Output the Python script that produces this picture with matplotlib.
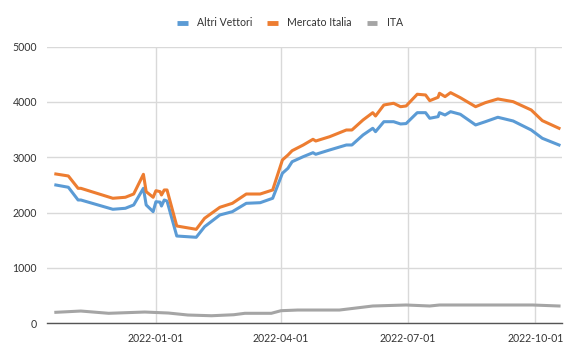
import numpy as np
import pandas as pd
import matplotlib
matplotlib.use("Agg")
import matplotlib.pyplot as plt
import matplotlib.dates as mdates

# ------------------------------------------------------------------
# Data
# ------------------------------------------------------------------
dates = [
    "2021-10-21", "2021-10-30", "2021-11-06", "2021-11-08", "2021-12-01",
    "2021-12-10", "2021-12-16", "2021-12-23", "2021-12-25", "2021-12-30",
    "2022-01-01", "2022-01-04", "2022-01-05", "2022-01-07", "2022-01-09",
    "2022-01-16", "2022-01-30", "2022-02-05", "2022-02-16", "2022-02-25",
    "2022-03-07", "2022-03-17", "2022-03-26", "2022-04-02", "2022-04-06",
    "2022-04-09", "2022-04-17", "2022-04-24", "2022-04-26", "2022-05-06",
    "2022-05-18", "2022-05-22", "2022-05-30", "2022-06-06", "2022-06-08",
    "2022-06-14", "2022-06-21", "2022-06-26", "2022-06-30", "2022-07-08",
    "2022-07-14", "2022-07-17", "2022-07-23", "2022-07-24", "2022-07-28",
    "2022-08-01", "2022-08-08", "2022-08-19", "2022-08-26", "2022-09-04",
    "2022-09-15", "2022-09-28", "2022-10-06", "2022-10-18",
]
mercato_italia = [
    2699, 2663, 2440, 2440, 2260,
    2278, 2337, 2693, 2379, 2278,
    2397, 2380, 2319, 2410, 2410,
    1759, 1699, 1898, 2097, 2169,
    2337, 2337, 2410, 2952, 3042,
    3120, 3223, 3326, 3295, 3373,
    3494, 3494, 3675, 3807, 3747,
    3946, 3977, 3915, 3928, 4140,
    4127, 4024, 4085, 4158, 4097,
    4169, 4078, 3915, 3988, 4055,
    4006, 3856, 3663, 3525,
]
altri_vettori = [
    2500, 2459, 2229, 2229, 2061,
    2079, 2139, 2440, 2139, 2018,
    2198, 2190, 2120, 2229, 2210,
    1578, 1555, 1746, 1958, 2018,
    2169, 2180, 2260, 2712, 2802,
    2921, 3012, 3084, 3055, 3133,
    3223, 3223, 3404, 3525, 3464,
    3644, 3644, 3603, 3610, 3807,
    3807, 3706, 3735, 3807, 3765,
    3825, 3778, 3585, 3644, 3724,
    3657, 3494, 3344, 3223,
]
ita_dates = [
    "2021-10-21", "2021-11-08", "2021-11-28", "2021-12-24", "2022-01-10",
    "2022-01-24", "2022-02-10", "2022-02-26", "2022-03-06", "2022-03-25",
    "2022-04-01", "2022-04-13", "2022-05-13", "2022-06-06", "2022-06-30",
    "2022-07-17", "2022-07-24", "2022-08-29", "2022-09-29", "2022-10-18",
]
ita = [
    199, 222, 181, 204, 186,
    150, 137, 155, 181, 181,
    228, 240, 240, 313, 331,
    313, 331, 331, 331, 313,
]

x_ticks = ["2022-01-01", "2022-04-01", "2022-07-01", "2022-10-01"]
y_ticks = [0, 1000, 2000, 3000, 4000, 5000]

BLUE = "#5b9bd5"
ORANGE = "#ed7d31"
GREY = "#a5a5a5"

plt.rcParams["font.family"] = ["Lato", "DejaVu Sans"]

fig = plt.figure(figsize=(5.8, 3.59), dpi=100)
ax = fig.add_axes([0.0805, 0.0994, 0.8879, 0.7706])

d = pd.to_datetime(dates)
ax.plot(d, altri_vettori, color=BLUE, lw=2.2, label="Altri Vettori", solid_joinstyle="round")
ax.plot(d, mercato_italia, color=ORANGE, lw=2.2, label="Mercato Italia", solid_joinstyle="round")
ax.plot(pd.to_datetime(ita_dates), ita, color=GREY, lw=2.2, label="ITA", solid_joinstyle="round")

ax.set_xlim(pd.Timestamp("2021-10-14 10:00"), pd.Timestamp("2022-10-19 22:00"))
ax.set_ylim(0, 5000)
ax.set_yticks(y_ticks)
ax.set_xticks(pd.to_datetime(x_ticks))
ax.xaxis.set_major_formatter(mdates.DateFormatter("%Y-%m-%d"))

ax.grid(True, color="#d9d9d9", lw=1.0)
ax.set_axisbelow(True)
for side in ("top", "right", "left"):
    ax.spines[side].set_visible(False)
ax.spines["bottom"].set_color("#555555")
ax.spines["bottom"].set_linewidth(1.0)
ax.tick_params(length=0, labelsize=7.6, colors="#333333", pad=7)

leg = fig.legend(
    loc="center", bbox_to_anchor=(0.5, 0.936), ncol=3, frameon=False,
    fontsize=7.6, handlelength=1.0, handletextpad=0.9, columnspacing=1.4,
)
for txt in leg.get_texts():
    txt.set_color("#333333")
for line in leg.get_lines():
    line.set_linewidth(3.5)
    line.set_solid_capstyle("butt")

fig.savefig("out.png", dpi=100)
